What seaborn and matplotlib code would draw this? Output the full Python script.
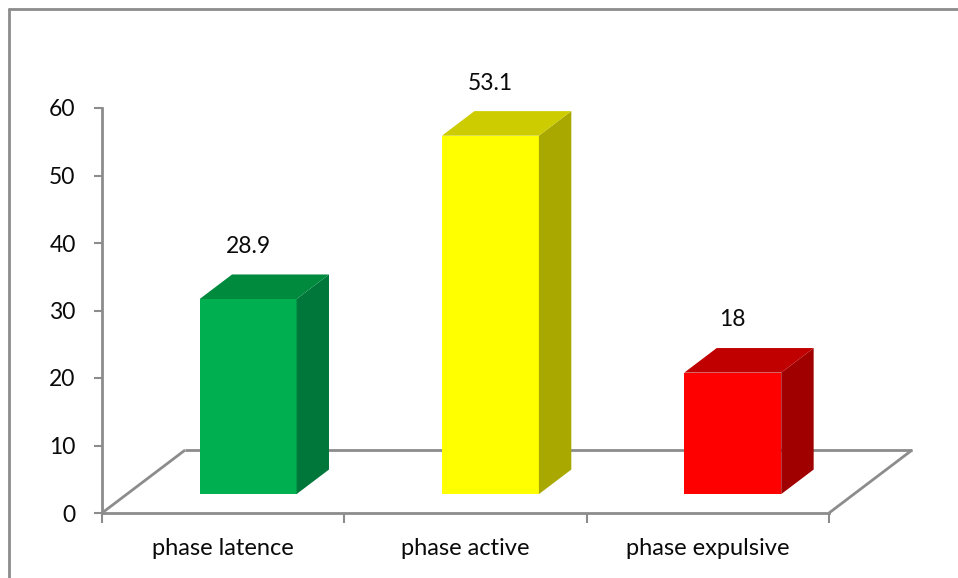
import matplotlib
matplotlib.use("Agg")
import matplotlib.pyplot as plt
from matplotlib.patches import Polygon
from matplotlib.lines import Line2D
import seaborn as sns
import pandas as pd

# ---- data ----
categories = ["phase latence", "phase active", "phase expulsive"]
values = [28.9, 53.1, 18.0]
value_labels = ["28.9", "53.1", "18"]
front_colors = ["#00B050", "#FFFF00", "#FF0000"]
top_colors = ["#008A3E", "#CCCC00", "#C00000"]
side_colors = ["#00773A", "#A8A800", "#A00000"]
y_ticks = [0, 10, 20, 30, 40, 50, 60]

sns.set_theme(style="white")
plt.rcParams["font.family"] = ["Lato", "DejaVu Sans"]

W, H = 958, 578
fig = plt.figure(figsize=(W / 100, H / 100), dpi=100)
ax = fig.add_axes([102 / W, (H - 513) / H, 727 / W, 405 / H])

df = pd.DataFrame({"cat": categories, "val": values})
sns.barplot(data=df, x="cat", y="val", hue="cat", palette=front_colors,
            width=0.4, saturation=1, legend=False, ax=ax, zorder=3)

ax.set_xlim(-0.5, len(categories) - 0.5)
ax.set_ylim(0, 60)

# 3D geometry (data units)
floor_dx, floor_dy = 0.343, 9.33
bar_front, bar_depth = 0.30, 0.39
sx, sy = floor_dx * bar_front, floor_dy * bar_front
ddx, ddy = floor_dx * bar_depth, floor_dy * bar_depth

floor_col = "#8C8C8C"
txt_col = "#0A0A0A"
x0f, x1f = -0.5, len(categories) - 0.5
floor_kw = dict(color=floor_col, lw=2, clip_on=False, zorder=1, solid_capstyle="butt")
ax.plot([x0f, x0f + floor_dx], [0, floor_dy], **floor_kw)
ax.plot([x0f + floor_dx, x1f + floor_dx], [floor_dy, floor_dy], **floor_kw)
ax.plot([x1f, x1f + floor_dx], [0, floor_dy], **floor_kw)

for i, p in enumerate(ax.patches):
    p.set_x(p.get_x() + sx)
    p.set_y(p.get_y() + sy)
    p.set_clip_on(False)
    p.set_edgecolor("none")
    x0 = p.get_x()
    x1 = x0 + p.get_width()
    b = p.get_y()
    t = b + p.get_height()
    side = Polygon([(x1, b), (x1 + ddx, b + ddy), (x1 + ddx, t + ddy), (x1, t)],
                   closed=True, facecolor=side_colors[i], edgecolor="none",
                   zorder=3, clip_on=False)
    top = Polygon([(x0, t), (x0 + ddx, t + ddy), (x1 + ddx, t + ddy), (x1, t)],
                  closed=True, facecolor=top_colors[i], edgecolor="none",
                  zorder=3, clip_on=False)
    ax.add_patch(side)
    ax.add_patch(top)
    ax.text(x0 + p.get_width() / 2, values[i] + sy + 7.8, value_labels[i],
            ha="center", va="center", fontsize=16.5, color=txt_col, zorder=5)

# axes styling
for s in ["top", "right"]:
    ax.spines[s].set_visible(False)
for s in ["left", "bottom"]:
    ax.spines[s].set_color(floor_col)
    ax.spines[s].set_linewidth(2)
    ax.spines[s].set_zorder(1)

ax.set_yticks(y_ticks)
ax.set_yticklabels([str(v) for v in y_ticks])
ax.tick_params(axis="y", direction="out", length=6, width=1.5, color=floor_col,
               pad=13, labelsize=16.5, labelcolor=txt_col, left=True)

ax.set_xticks([i - 0.5 for i in range(len(categories) + 1)])
ax.set_xticklabels([""] * (len(categories) + 1))
ax.set_xticks(range(len(categories)), minor=True)
ax.set_xticklabels(categories, minor=True)
ax.tick_params(axis="x", which="major", direction="out", length=7, width=1.5,
               color=floor_col, bottom=True)
ax.tick_params(axis="x", which="minor", length=0, pad=18, labelsize=17,
               labelcolor=txt_col)
ax.set_xlabel("")
ax.set_ylabel("")
ax.patch.set_alpha(0)

# outer chart frame (top and left edges visible)
fx = 9 / W
fy = 1 - 9 / H
fig.add_artist(Line2D([fx, fx], [0, fy], color="#8C8C8C", lw=2, transform=fig.transFigure))
fig.add_artist(Line2D([fx, 1], [fy, fy], color="#8C8C8C", lw=2, transform=fig.transFigure))

fig.savefig("out.png", dpi=100)
